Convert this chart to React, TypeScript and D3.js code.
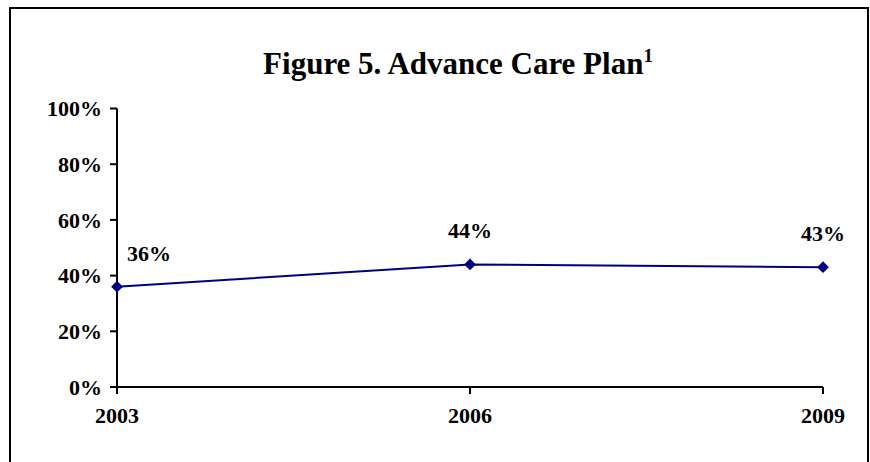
import * as d3 from "d3";

const years = ["2003", "2006", "2009"];
const shares = [0.36, 0.44, 0.43];
const yTicks = [0, 0.2, 0.4, 0.6, 0.8, 1.0];

const WIDTH = 870;
const HEIGHT = 462;
const FONT = "'Liberation Serif', 'Times New Roman', serif";
const NAVY = "#000080";

export default function App() {
  const x = d3.scalePoint<string>().domain(years).range([117, 823]);
  const y = d3.scaleLinear().domain([0, 1]).range([387, 108.5]);
  const pct = d3.format(".0%");

  const line = d3
    .line<number>()
    .x((_, i) => x(years[i]) as number)
    .y((d) => y(d));

  const diamond = d3.symbol().type(d3.symbolDiamond2).size(88)();

  return (
    <svg
      width={WIDTH}
      height={HEIGHT}
      style={{ position: "absolute", left: 0, top: 0, background: "#fff" }}
      fontFamily={FONT}
      fontWeight="bold"
    >
      {/* outer frame, bottom edge falls below the photographed area */}
      <rect x={10} y={8} width={858} height={HEIGHT + 20} fill="none" stroke="#000" strokeWidth={2} />

      <text x={458} y={74} textAnchor="middle" fontSize={31}>
        Figure 5. Advance Care Plan
        <tspan fontSize={19} dy={-12}>1</tspan>
      </text>

      {/* y axis */}
      <line x1={117} x2={117} y1={y(1)} y2={y(0)} stroke="#000" strokeWidth={2} />
      {yTicks.map((t) => (
        <g key={t}>
          <line x1={110} x2={117} y1={y(t)} y2={y(t)} stroke="#000" strokeWidth={2} />
          <text x={102} y={y(t)} dy="0.35em" textAnchor="end" fontSize={22}>
            {pct(t)}
          </text>
        </g>
      ))}

      {/* x axis */}
      <line x1={x(years[0])} x2={x(years[years.length - 1])} y1={y(0)} y2={y(0)} stroke="#000" strokeWidth={2} />
      {years.map((yr) => (
        <g key={yr}>
          <line x1={x(yr)} x2={x(yr)} y1={y(0)} y2={y(0) + 7} stroke="#000" strokeWidth={2} />
          <text x={x(yr)} y={423} textAnchor="middle" fontSize={22}>
            {yr}
          </text>
        </g>
      ))}

      <path d={line(shares) || ""} fill="none" stroke={NAVY} strokeWidth={2} />
      {shares.map((v, i) => {
        const px = x(years[i]) as number;
        // keep the first label clear of the y axis, like Excel does
        const lx = Math.max(px, 117 + 32);
        return (
          <g key={years[i]}>
            <path d={diamond || ""} transform={`translate(${px},${y(v)})`} fill={NAVY} />
            <text x={lx} y={y(v) - 26} textAnchor="middle" fontSize={22}>
              {pct(v)}
            </text>
          </g>
        );
      })}
    </svg>
  );
}
